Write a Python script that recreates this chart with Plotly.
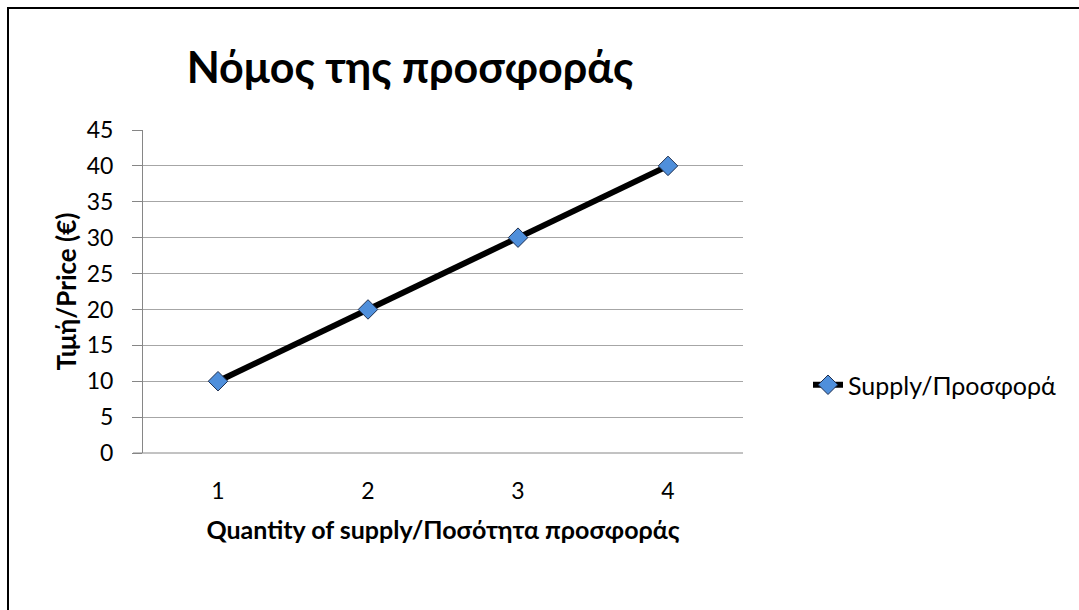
import plotly.graph_objects as go

quantity = [1, 2, 3, 4]
price = [10, 20, 30, 40]
y_ticks = [0, 5, 10, 15, 20, 25, 30, 35, 40, 45]

title_text = "Νόμος της προσφοράς"
x_title = "Quantity of supply/Ποσότητα προσφοράς"
y_title = "Τιμή/Price (€)"
series_name = "Supply/Προσφορά"

FONT = "Lato"
W, H = 1079, 610
L, R, T, B = 143, 336, 130, 157

fig = go.Figure()
fig.add_trace(go.Scatter(
    x=quantity, y=price, mode="lines+markers", name=series_name,
    line=dict(color="black", width=6),
    marker=dict(symbol="diamond", size=15, color="#4F8FDB",
                line=dict(color="#1F2F4F", width=1)),
))

pw = W - L - R
ph = H - T - B
fig.update_layout(
    width=W, height=H,
    margin=dict(l=L, r=R, t=T, b=B),
    paper_bgcolor="white", plot_bgcolor="white",
    font=dict(family=FONT, color="black", size=23),
    title=dict(text="<b>" + title_text + "</b>", x=410 / W, xanchor="center",
               y=1 - 68 / H, yanchor="middle", font=dict(size=43, family=FONT)),
    showlegend=True,
    legend=dict(x=(808 - L) / pw, y=(453 - 385) / ph, xanchor="left", yanchor="middle",
                font=dict(size=25, family=FONT), bgcolor="rgba(0,0,0,0)",
                itemwidth=30),
    xaxis=dict(range=[0.5, 4.5], tickvals=quantity, ticktext=[str(q) for q in quantity],
               showgrid=False, zeroline=False, showline=False, ticks="",
               tickfont=dict(size=23), ticklabelstandoff=22,
               title=dict(text="<b>" + x_title + "</b>", font=dict(size=25), standoff=18)),
    yaxis=dict(range=[0, 45], tickvals=y_ticks, showgrid=True, gridcolor="#A6A6A6",
               gridwidth=1, zeroline=False, showline=True, linecolor="#868686",
               linewidth=1, ticks="outside", ticklen=10, tickcolor="#868686",
               tickfont=dict(size=23), ticklabelstandoff=14,
               title=dict(text="<b>" + y_title + "</b>", font=dict(size=26), standoff=2)),
    shapes=[
        dict(type="rect", xref="paper", yref="paper",
             x0=(8 - L) / pw, x1=(W + 20 - L) / pw,
             y0=(H - (H + 20) - B) / ph, y1=(H - 8 - B) / ph,
             line=dict(color="black", width=2), fillcolor="rgba(0,0,0,0)", layer="below"),
        dict(type="line", xref="paper", yref="paper", x0=-10 / pw, x1=1, y0=0, y1=0,
             line=dict(color="#868686", width=1)),
    ],
)

fig.write_html("out.html", config={"displayModeBar": False},
               post_script="document.body.style.margin='0';document.body.style.padding='0';")
